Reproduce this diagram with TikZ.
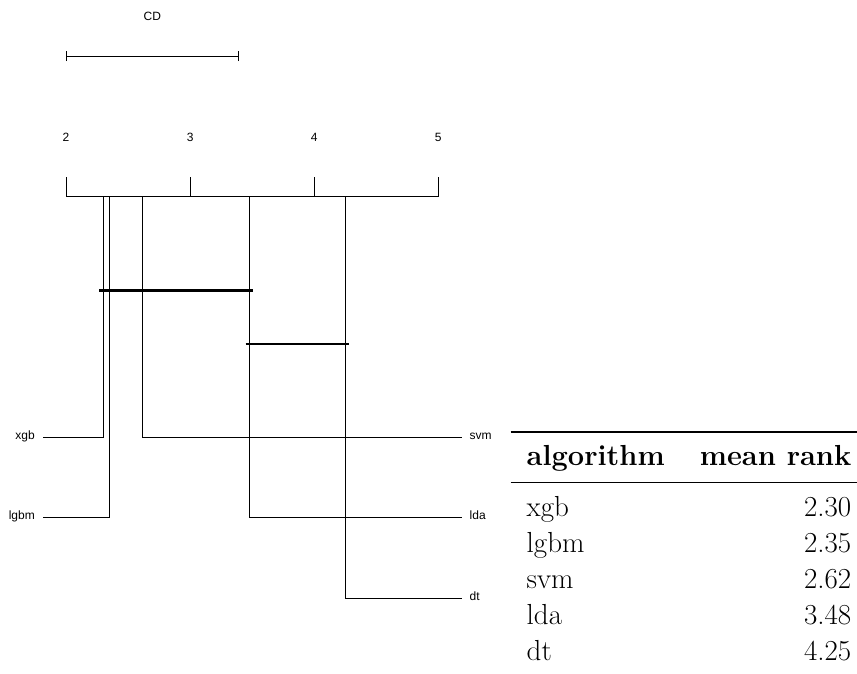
\documentclass[tikz,border=0pt]{standalone}
\usepackage{fontspec}
\newfontfamily\plotfont{Liberation Sans}
\tikzset{
  thin line/.style={line width=1pt, black},
  clique/.style={line width=2.6pt, black},
  lab/.style={font=\plotfont\fontsize{12}{14}\selectfont, inner sep=0pt},
  tabtext/.style={font=\fontsize{29}{35}\selectfont, inner sep=0pt},
  tabhead/.style={font=\fontsize{29}{35}\selectfont\bfseries, inner sep=0pt},
}
\begin{document}
\begin{tikzpicture}[x=1pt,y=-1pt]
\useasboundingbox (0,0) rectangle (857,673);
% CD bar
\node[lab, anchor=base] (cd) at (152.4,20.7) {CD};
\coordinate (cdl) at (66,56);
\coordinate (cdr) at (238.7,56);
\draw[thin line] (cdl) -- (cdr);
\draw[thin line] ([yshift=-5pt]cdl) -- ([yshift=5pt]cdl);
\draw[thin line] ([yshift=-5pt]cdr) -- ([yshift=5pt]cdr);
% axis
\coordinate (a2) at (66,196.7);
\coordinate (a3) at (190.1,196.7);
\coordinate (a4) at (314.2,196.7);
\coordinate (a5) at (438.3,196.7);
\draw[thin line] (a2) -- (a5);
\foreach \t in {2,3,4,5} {
  \draw[thin line] (a\t) -- ++(0,-20);
  \node[lab, anchor=base] (t\t) at ([yshift=55pt]a\t) {\t};
}
% rank points on axis
\coordinate (pxgb) at (103.2,196.7);
\coordinate (plgbm) at (109.4,196.7);
\coordinate (psvm) at (142.9,196.7);
\coordinate (plda) at (249.7,196.7);
\coordinate (pdt) at (345.2,196.7);
% labels
\node[lab, anchor=mid east] (xgb) at (35,437) {xgb};
\node[lab, anchor=mid east] (lgbm) at (35,517.5) {lgbm};
\node[lab, anchor=mid west] (svm) at (469.5,437) {svm};
\node[lab, anchor=mid west] (lda) at (469.5,517.5) {lda};
\node[lab, anchor=mid west] (dt) at (469.5,598) {dt};
\coordinate (exgb) at (42.7,437);
\coordinate (elgbm) at (42.7,517.5);
\coordinate (esvm) at (461.7,437);
\coordinate (elda) at (461.7,517.5);
\coordinate (edt) at (461.7,598);
\draw[thin line] (pxgb) |- (exgb);
\draw[thin line] (plgbm) |- (elgbm);
\draw[thin line] (psvm) |- (esvm);
\draw[thin line] (plda) |- (elda);
\draw[thin line] (pdt) |- (edt);
% cliques
\coordinate (c1l) at (99.3,290.7);
\coordinate (c1r) at (252.7,290.7);
\coordinate (c2l) at (245.7,344);
\coordinate (c2r) at (349.3,344);
\draw[clique] (c1l) -- (c1r);
\draw[clique] (c2l) -- (c2r);
% table
\coordinate (trl) at (510.7,431.7);
\coordinate (trr) at (857,431.7);
\coordinate (mrl) at (510.7,482.3);
\coordinate (mrr) at (857,482.3);
\draw[line width=2.3pt] (trl) -- (trr);
\draw[line width=1.4pt] (mrl) -- (mrr);
\node[tabhead, anchor=base west] (h1) at (526.5,465.7) {algorithm};
\node[tabhead, anchor=base east] (h2) at (851.5,465.7) {mean rank};
\foreach \n/\v/\y [count=\i] in {xgb/2.30/516.7, lgbm/2.35/552.7, svm/2.62/588.7, lda/3.48/624.7, dt/4.25/660.7} {
  \node[tabtext, anchor=base west] (r\i a) at (526.5,\y) {\n};
  \node[tabtext, anchor=base east] (r\i b) at (851.5,\y) {\v};
}
\end{tikzpicture}
\end{document}
